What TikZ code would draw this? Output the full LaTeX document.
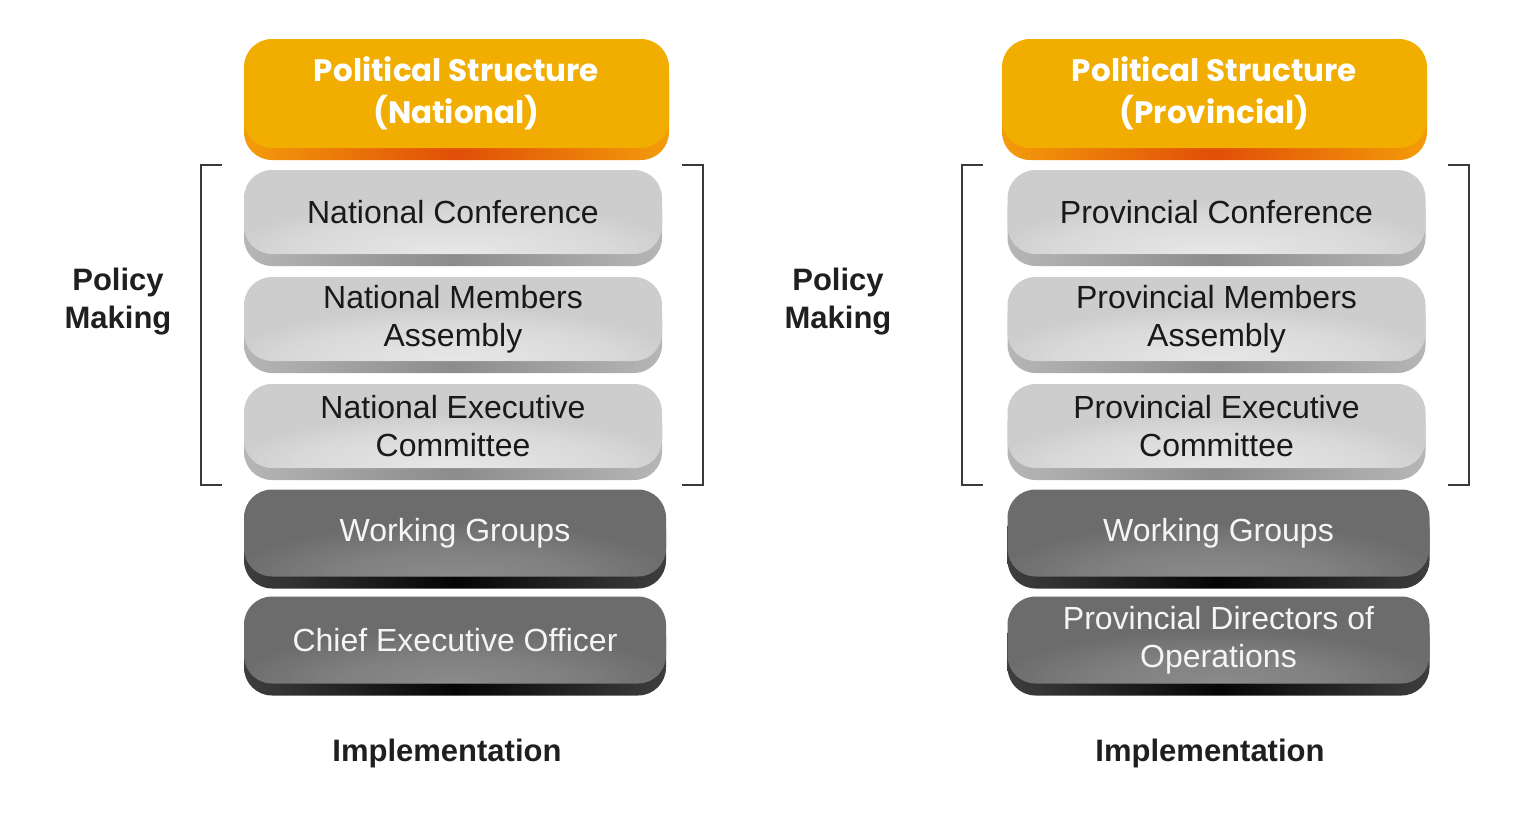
\documentclass[tikz,border=0pt]{standalone}
\usepackage{fontspec}
\setmainfont{Liberation Sans}
\newfontfamily\titlefont{Poppins}
\usepackage{tikz}

\definecolor{orangeface}{HTML}{F2AE00}
\definecolor{orangerim}{HTML}{E14E08}
\definecolor{orangeside}{HTML}{F39C0A}
\definecolor{grayface}{HTML}{CDCDCD}
\definecolor{grayrim}{HTML}{8C8C8C}
\definecolor{grayside}{HTML}{B6B6B6}
\definecolor{darkface}{HTML}{6C6C6C}
\definecolor{darkrim}{HTML}{050505}
\definecolor{darkside}{HTML}{3E3E3E}
\definecolor{bracketgray}{HTML}{3A3A3A}

\tikzset{
  tier/.style={rounded corners=28pt, inner sep=0pt, align=center,
    font=\fontsize{32}{38}\selectfont},
  toptier/.style={tier, minimum width=425pt, minimum height=109pt,
    fill=orangeface, text=white,
    font=\titlefont\bfseries\fontsize{31}{42}\selectfont,
    preaction={transform canvas={yshift=-12pt},
      left color=orangeside, right color=orangeside, middle color=orangerim}},
  policytier/.style={tier, minimum width=418pt, minimum height=84pt,
    fill=grayface, text=black!90,
    preaction={transform canvas={yshift=-12pt},
      left color=grayside, right color=grayside, middle color=grayrim},
    path picture={\foreach \k in {1,...,20}
      \fill[white, opacity=0.05] (path picture bounding box.south)
        ellipse [x radius=\k*11pt, y radius=\k*2.6pt];}},
  worktier/.style={tier, minimum width=422pt, minimum height=87pt,
    fill=darkface, text=white!96!black,
    preaction={transform canvas={yshift=-12pt},
      left color=darkside, right color=darkside, middle color=darkrim},
    path picture={\foreach \k in {1,...,20}
      \fill[white, opacity=0.015] (path picture bounding box.south)
        ellipse [x radius=\k*11pt, y radius=\k*2.6pt];}},
  sidelabel/.style={align=center, font=\bfseries\fontsize{31}{38}\selectfont, text=black!88},
  bracket/.style={draw=bracketgray, line width=1.8pt}
}

\begin{document}
\begin{tikzpicture}[x=1pt, y=-1pt]
  \useasboundingbox (0,0) rectangle (1536,833);

  % National column
  \node[toptier] (natTop) at (456.5,93.5) {Political Structure\\(National)};
  \node[policytier] (natConf) at (453,212) {National Conference};
  \node[policytier] (natMembers) at (453,319) {National Members\\Assembly};
  \node[policytier] (natExec) at (453,426) {National Executive\\Committee};
  \node[worktier] (natWork) at (455,533) {Working Groups};
  \node[worktier] (natCEO) at (455,640) {Chief Executive Officer};

  % National brackets
  \draw[bracket] (222,165) -- (201,165) -- (201,485) -- (222,485);
  \draw[bracket] (682,165) -- (703,165) -- (703,485) -- (682,485);
  \node[sidelabel] (natPolicy) at (118,302) {Policy\\Making};
  \node[sidelabel] (natImpl) at (447,753) {Implementation};

  % Provincial column
  \node[toptier] (provTop) at (1214.5,93.5) {Political Structure\\(Provincial)};
  \node[policytier] (provConf) at (1216.5,212) {Provincial Conference};
  \node[policytier] (provMembers) at (1216.5,319) {Provincial Members\\Assembly};
  \node[policytier] (provExec) at (1216.5,426) {Provincial Executive\\Committee};
  \node[worktier] (provWork) at (1218.5,533) {Working Groups};
  \node[worktier] (provDirectors) at (1218.5,640) {Provincial Directors of\\Operations};

  % Provincial brackets
  \draw[bracket] (983,165) -- (962,165) -- (962,485) -- (983,485);
  \draw[bracket] (1448,165) -- (1469,165) -- (1469,485) -- (1448,485);
  \node[sidelabel] (provPolicy) at (838,302) {Policy\\Making};
  \node[sidelabel] (provImpl) at (1210,753) {Implementation};

\end{tikzpicture}
\end{document}
